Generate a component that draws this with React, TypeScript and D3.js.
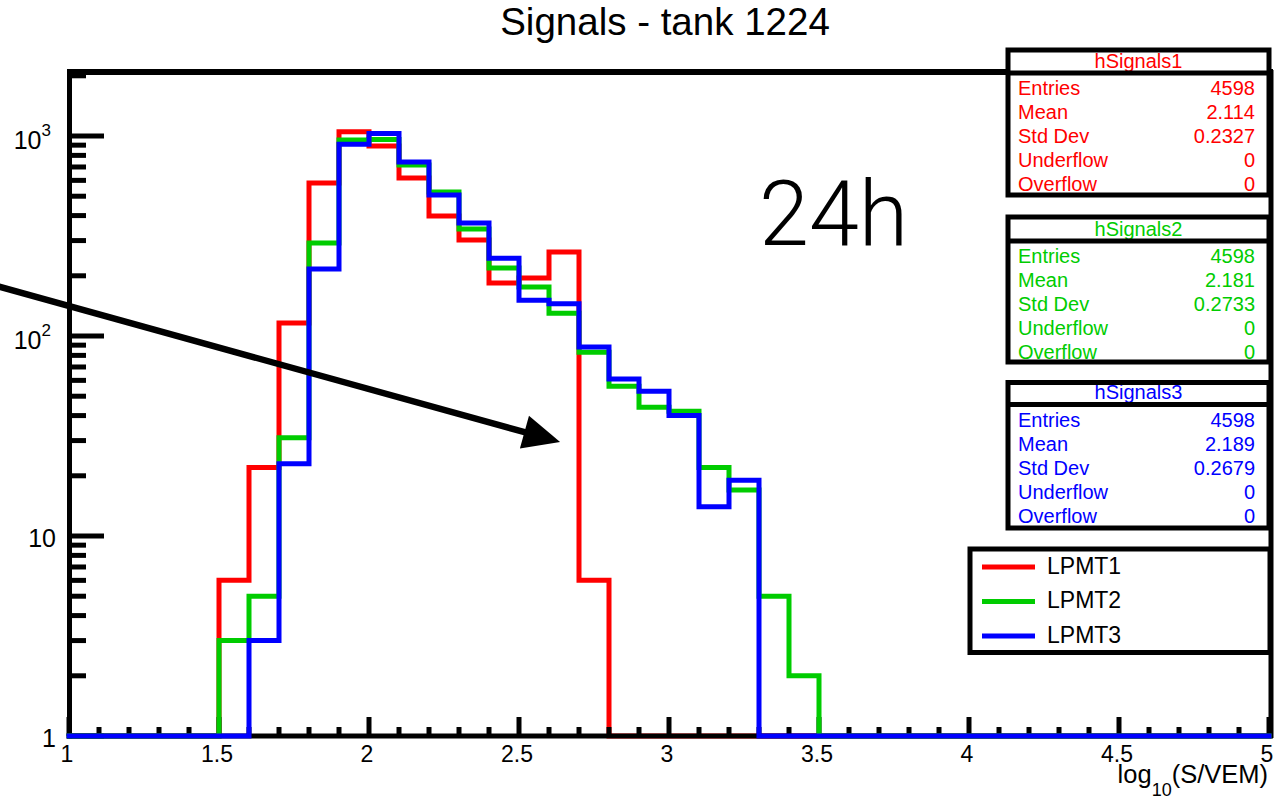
import React from "react";
import * as d3 from "d3";

// ---- data ----
const binEdgesStart = 1.0;
const binWidth = 0.1;
const nBins = 40;
const lpmt1 = [0, 0, 0, 0, 0, 6, 22, 116, 582, 1050, 891, 617, 398, 302, 184, 195, 263, 6, 0, 0, 0, 0, 0, 0, 0, 0, 0, 0, 0, 0, 0, 0, 0, 0, 0, 0, 0, 0, 0, 0];
const lpmt2 = [0, 0, 0, 0, 0, 3, 5, 31, 292, 955, 960, 716, 525, 343, 219, 176, 130, 83, 56, 44, 42, 22, 17, 5, 2, 0, 0, 0, 0, 0, 0, 0, 0, 0, 0, 0, 0, 0, 0, 0];
const lpmt3 = [0, 0, 0, 0, 0, 0, 3, 23, 216, 910, 1030, 741, 507, 367, 245, 151, 145, 88, 61, 53, 40, 14, 19, 0, 0, 0, 0, 0, 0, 0, 0, 0, 0, 0, 0, 0, 0, 0, 0, 0];
const seriesNames = ["LPMT1", "LPMT2", "LPMT3"];
const seriesColors = ["#ff0000", "#00cc00", "#0000ff"];
const statNames = ["hSignals1", "hSignals2", "hSignals3"];
const statEntries = ["4598", "4598", "4598"];
const statMeans = ["2.114", "2.181", "2.189"];
const statStdDevs = ["0.2327", "0.2733", "0.2679"];
const statUnderflows = ["0", "0", "0"];
const statOverflows = ["0", "0", "0"];
const statLabels = ["Entries", "Mean", "Std Dev", "Underflow", "Overflow"];
const xTickLabels = ["1", "1.5", "2", "2.5", "3", "3.5", "4", "4.5", "5"];
const yMajorTicks = [1, 10, 100, 1000];
const titleText = "Signals - tank 1224";
const annotationText = "24h";
// annotation arrow in data coordinates [x, count]
const arrowStart = [0.77, 176];
const arrowTip = [2.637, 29.5];
const annotationPos = [3.3, 285];

const FONT = "'Liberation Sans', Arial, Helvetica, sans-serif";

export default function App() {
  const W = 1281, H = 799;
  const x = d3.scaleLinear().domain([1, 5]).range([69, 1269]);
  const yTop = Math.pow(10, 3.32);
  const y = d3.scaleLog().domain([1, yTop]).range([736, 72]);
  const yv = (v: number) => (v > 0 ? y(v) : y(1));

  const allSeries = [lpmt1, lpmt2, lpmt3];
  const line = d3
    .line<[number, number]>()
    .x((d) => x(d[0]))
    .y((d) => yv(d[1]))
    .curve(d3.curveStepAfter);

  const paths = allSeries.map((vals) => {
    const pts: [number, number][] = vals.map((v, i) => [binEdgesStart + i * binWidth, v]);
    pts.push([binEdgesStart + nBins * binWidth, vals[vals.length - 1]]);
    return line(pts) || "";
  });

  const xMinor = d3.range(0, 41).map((i) => 1 + i * 0.1);
  const yMinor: number[] = [];
  for (let dec = 1; dec <= 1000; dec *= 10) {
    for (let m = 2; m <= 9; m++) {
      const v = m * dec;
      if (v <= yTop) yMinor.push(v);
    }
  }

  // arrow geometry
  const sx = x(arrowStart[0]), sy = y(arrowStart[1]);
  const tx = x(arrowTip[0]), ty = y(arrowTip[1]);
  const len = Math.hypot(tx - sx, ty - sy);
  const ux = (tx - sx) / len, uy = (ty - sy) / len;
  const headLen = 37, headHalf = 17;
  const bx = tx - headLen * ux, by = ty - headLen * uy;
  const nx = -uy, ny = ux;
  const headPts = `${tx},${ty} ${bx + headHalf * nx},${by + headHalf * ny} ${bx - headHalf * nx},${by - headHalf * ny}`;

  const boxTops = [50, 217, 382.5];
  const boxDividers = [73, 241, 404.5];
  const boxBottoms = [195, 362, 528];
  const boxL = 1008, boxR = 1269;
  const statVals = [statEntries, statMeans, statStdDevs, statUnderflows, statOverflows];

  const histPath = (i: number) => (
    <path key={"h" + i} d={paths[i]} fill="none" stroke={seriesColors[i]} strokeWidth={5} strokeLinejoin="miter" strokeLinecap="square" />
  );

  return (
    <svg
      width={W}
      height={H}
      style={{ position: "absolute", left: 0, top: 0, background: "#fff" }}
      fontFamily={FONT}
    >
      <rect x={0} y={0} width={W} height={H} fill="#fff" />
      <text x={665} y={35} fontSize={38.5} textAnchor="middle" fill="#000">
        {titleText}
      </text>

      {/* first histogram is drawn beneath the axes */}
      {histPath(0)}

      {/* frame */}
      <line x1={67} x2={1273} y1={72} y2={72} stroke="#000" strokeWidth={6} />
      <line x1={1271} x2={1271} y1={70} y2={738} stroke="#000" strokeWidth={5} />

      {xMinor.map((v, i) => {
        const major = i % 5 === 0;
        return (
          <line key={"xt" + i} x1={x(v)} x2={x(v)} y1={736} y2={major ? 717 : 727} stroke="#000" strokeWidth={5} />
        );
      })}
      {yMajorTicks.map((v) => (
        <line key={"ym" + v} x1={69} x2={104} y1={y(v)} y2={y(v)} stroke="#000" strokeWidth={5} />
      ))}
      {yMinor.map((v) => (
        <line key={"yn" + v} x1={69} x2={86} y1={y(v)} y2={y(v)} stroke="#000" strokeWidth={5} />
      ))}
      <line x1={69.5} x2={69.5} y1={70} y2={738.5} stroke="#000" strokeWidth={5} />
      <line x1={67} x2={1273} y1={736} y2={736} stroke="#000" strokeWidth={5} />

      {xTickLabels.map((t) => (
        <text key={"xl" + t} x={x(+t) - 2} y={762} fontSize={23} textAnchor="middle" fill="#000">
          {t}
        </text>
      ))}
      {yMajorTicks.map((v) => {
        const exp = Math.round(Math.log10(v));
        if (exp <= 1) {
          return (
            <text key={"yl" + v} x={56} y={y(v) + 11} fontSize={25} textAnchor="end" fill="#000">
              {String(v)}
            </text>
          );
        }
        return (
          <text key={"yl" + v} x={51} y={y(v) + 13} fontSize={25} textAnchor="end" fill="#000">
            10
            <tspan fontSize={17} dy={-13}>
              {String(exp)}
            </tspan>
          </text>
        );
      })}
      <text x={1268} y={783} fontSize={25.5} textAnchor="end" fill="#000">
        log
        <tspan fontSize={18} dy={13}>10</tspan>
        <tspan dy={-13}>(S/VEM)</tspan>
      </text>

      {/* other histograms on top */}
      {histPath(1)}
      {histPath(2)}

      <text
        x={x(annotationPos[0])}
        y={y(annotationPos[1])}
        fontSize={90}
        fontFamily="Roboto, 'Liberation Sans', sans-serif"
        fontWeight={300}
        fill="#000"
      >
        {annotationText}
      </text>

      <line x1={sx - 10 * ux} y1={sy - 10 * uy} x2={bx + 2 * ux} y2={by + 2 * uy} stroke="#000" strokeWidth={6.5} />
      <polygon points={headPts} fill="#000" />

      {statNames.map((name, b) => {
        const top = boxTops[b], div = boxDividers[b], bot = boxBottoms[b];
        const col = seriesColors[b];
        return (
          <g key={"sb" + b}>
            <rect x={boxL} y={top} width={boxR - boxL} height={bot - top} fill="#fff" />
            <text x={(boxL + boxR) / 2} y={div - 5.5} fontSize={20} textAnchor="middle" fill={col}>
              {name}
            </text>
            {statLabels.map((lab, r) => (
              <g key={"r" + r}>
                <text x={1018} y={div + 22 + r * 24} fontSize={20} fill={col}>
                  {lab}
                </text>
                <text x={1255} y={div + 22 + r * 24} fontSize={20} textAnchor="end" fill={col}>
                  {statVals[r][b]}
                </text>
              </g>
            ))}
            <rect x={boxL} y={top} width={boxR - boxL} height={bot - top} fill="none" stroke="#000" strokeWidth={5} />
            <line x1={boxL} x2={boxR} y1={div} y2={div} stroke="#000" strokeWidth={5} />
          </g>
        );
      })}

      <rect x={970} y={549} width={300} height={103.5} fill="#fff" stroke="#000" strokeWidth={5} />
      {seriesNames.map((n, i) => {
        const ly = 567 + i * 34.5;
        return (
          <g key={"lg" + i}>
            <line x1={982} x2={1035} y1={ly} y2={ly} stroke={seriesColors[i]} strokeWidth={5} />
            <text x={1047} y={ly + 6.5} fontSize={23} fill="#000">
              {n}
            </text>
          </g>
        );
      })}
    </svg>
  );
}
